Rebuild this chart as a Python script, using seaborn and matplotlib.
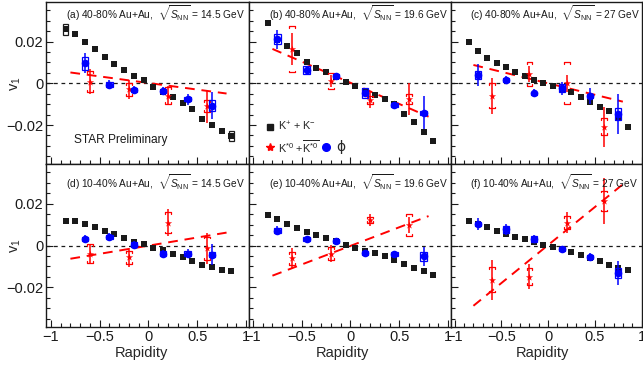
import numpy as np
import matplotlib
matplotlib.use("Agg")
import matplotlib.pyplot as plt
import pandas as pd
import seaborn as sns
from matplotlib.patches import Rectangle
from matplotlib.ticker import MultipleLocator

sns.set_theme(style="ticks")
plt.rcParams['font.family'] = ['Liberation Sans', 'DejaVu Sans']
plt.rcParams['mathtext.fontset'] = 'custom'
plt.rcParams['mathtext.rm'] = 'Liberation Sans'
plt.rcParams['mathtext.it'] = 'Liberation Sans:italic'
plt.rcParams['mathtext.bf'] = 'Liberation Sans:bold'

# rapidity bins
y_k = [-0.85, -0.75, -0.65, -0.55, -0.45, -0.35, -0.25, -0.15, -0.05,
       0.05, 0.15, 0.25, 0.35, 0.45, 0.55, 0.65, 0.75, 0.85]
y_phi_145 = [-0.65, -0.4, -0.15, 0.15, 0.4, 0.65]
y_phi = [-0.75, -0.45, -0.15, 0.15, 0.45, 0.75]
y_ks = [-0.6, -0.2, 0.2, 0.6]
fit_x = [-0.8, 0.8]

tags = ["(a) 40-80% Au+Au,", "(b) 40-80% Au+Au,", "(c) 40-80% Au+Au,",
        "(d) 10-40% Au+Au,", "(e) 10-40% Au+Au,", "(f) 10-40% Au+Au,"]
energies = ["14.5", "19.6", "27", "14.5", "19.6", "27"]

# K+ + K-
k_a = [0.0259, 0.0237, 0.0198, 0.0166, 0.0126, 0.0093, 0.0064, 0.0035, 0.0016,
       -0.0019, -0.0042, -0.0066, -0.0093, -0.0125, -0.0170, -0.0200, -0.0229, -0.0253]
k_b = [0.0288, 0.0210, 0.0181, 0.0144, 0.0104, 0.0075, 0.0053, 0.0032, 0.0008,
       -0.0013, -0.0035, -0.0056, -0.0077, -0.0100, -0.0147, -0.0184, -0.0232, -0.0278]
k_c = [0.0200, 0.0155, 0.0123, 0.0099, 0.0077, 0.0053, 0.0035, 0.0016, 0.0000,
       -0.0013, -0.0025, -0.0040, -0.0064, -0.0088, -0.0112, -0.0131, -0.0165, -0.0208]
k_d = [0.0117, 0.0117, 0.0104, 0.0088, 0.0072, 0.0056, 0.0037, 0.0019, 0.0006,
       -0.0014, -0.0022, -0.0038, -0.0056, -0.0075, -0.0091, -0.0101, -0.0115, -0.0120]
k_e = [0.0147, 0.0125, 0.0104, 0.0085, 0.0064, 0.0050, 0.0034, 0.0021, 0.0003,
       -0.0010, -0.0024, -0.0037, -0.0051, -0.0070, -0.0088, -0.0109, -0.0123, -0.0142]
k_f = [0.0117, 0.0104, 0.0088, 0.0072, 0.0056, 0.0040, 0.0029, 0.0016, 0.0005,
       -0.0006, -0.0016, -0.0032, -0.0045, -0.0059, -0.0075, -0.0093, -0.0107, -0.0118]
k_sys_a = [0.0025, 0, 0, 0, 0, 0, 0, 0, 0, 0, 0, 0, 0, 0, 0, 0, 0, 0.0024]

# phi
phi_a = [0.0096, -0.0006, -0.0032, -0.0037, -0.0077, -0.0107]
phi_b = [0.0211, 0.0064, 0.0035, -0.0048, -0.0106, -0.0141]
phi_c = [0.0040, 0.0016, -0.0048, -0.0024, -0.0061, -0.0147]
phi_d = [0.0032, 0.0040, 0.0005, -0.0038, -0.0038, -0.0043]
phi_e = [0.0072, 0.0032, 0.0021, -0.0037, -0.0042, -0.0051]
phi_f = [0.0104, 0.0077, 0.0032, -0.0016, -0.0056, -0.0131]
phi_err_a = [0.0048, 0.002, 0.0018, 0.002, 0.0025, 0.0064]
phi_err_b = [0.0046, 0.0015, 0.0015, 0.0015, 0.0018, 0.0078]
phi_err_c = [0.0055, 0.002, 0.002, 0.003, 0.004, 0.0096]
phi_err_d = [0.002, 0.0018, 0.0015, 0.0015, 0.002, 0.005]
phi_err_e = [0.002, 0.0015, 0.0015, 0.0015, 0.0015, 0.0045]
phi_err_f = [0.003, 0.0025, 0.002, 0.0015, 0.002, 0.0056]
phi_sys_a = [0.0032, 0.001, 0.001, 0.001, 0.001, 0.0028]
phi_sys_b = [0.0024, 0.0018, 0.0008, 0.0024, 0.001, 0.001]
phi_sys_c = [0.002, 0.0008, 0.0008, 0.002, 0.001, 0.0028]
phi_sys_d = [0.001, 0.001, 0.001, 0.001, 0.001, 0.001]
phi_sys_e = [0.001, 0.001, 0.001, 0.001, 0.001, 0.0022]
phi_sys_f = [0.001, 0.0015, 0.0015, 0.001, 0.001, 0.0024]

# K*0 + anti-K*0
ks_a = [0.0008, -0.0029, -0.0060, -0.0110]
ks_b = [0.0163, 0.0011, -0.0080, -0.0075]
ks_c = [-0.0060, 0.0045, 0.0000, -0.0208]
ks_d = [-0.0038, -0.0056, 0.0109, -0.0013]
ks_e = [-0.0061, -0.0038, 0.0123, 0.0098]
ks_f = [-0.0163, -0.0149, 0.0109, 0.0213]
ks_err_a = [0.006, 0.0045, 0.0045, 0.008]
ks_err_b = [0.0076, 0.003, 0.004, 0.0078]
ks_err_c = [0.0085, 0.004, 0.004, 0.0096]
ks_err_d = [0.0045, 0.0045, 0.0065, 0.0075]
ks_err_e = [0.005, 0.004, 0.003, 0.004]
ks_err_f = [0.0095, 0.006, 0.005, 0.0108]
ks_sys_a = [0.005, 0.003, 0.004, 0.0028]
ks_sys_b = [0.011, 0.004, 0.002, 0.0024]
ks_sys_c = [0.006, 0.0058, 0.010, 0.004]
ks_sys_d = [0.0045, 0.003, 0.005, 0.0055]
ks_sys_e = [0.003, 0.003, 0.0015, 0.0052]
ks_sys_f = [0.006, 0.004, 0.003, 0.005]

# linear fits to K*0 (end points)
fit_a = [0.0052, -0.0049]
fit_b = [0.0165, -0.0160]
fit_c = [0.0088, -0.0088]
fit_d = [-0.0063, 0.0062]
fit_e = [-0.0144, 0.0141]
fit_f = [-0.0288, 0.0293]

panels = [
    (k_a, k_sys_a, y_phi_145, phi_a, phi_err_a, phi_sys_a, ks_a, ks_err_a, ks_sys_a, fit_a),
    (k_b, None, y_phi, phi_b, phi_err_b, phi_sys_b, ks_b, ks_err_b, ks_sys_b, fit_b),
    (k_c, None, y_phi, phi_c, phi_err_c, phi_sys_c, ks_c, ks_err_c, ks_sys_c, fit_c),
    (k_d, None, y_phi_145, phi_d, phi_err_d, phi_sys_d, ks_d, ks_err_d, ks_sys_d, fit_d),
    (k_e, None, y_phi, phi_e, phi_err_e, phi_sys_e, ks_e, ks_err_e, ks_sys_e, fit_e),
    (k_f, None, y_phi, phi_f, phi_err_f, phi_sys_f, ks_f, ks_err_f, ks_sys_f, fit_f),
]

W, H = 643, 366
fig = plt.figure(figsize=(W / 100, H / 100), dpi=100)

# pixel frames of the columns / rows
cols = [(46, 249), (249, 451), (451, 642)]
rows = [(2, 164), (164, 326.5)]
xlims = [(-1.05, 1.03), (-1.04, 1.03), (-1.04, 1.005)]
ylim = (-0.0387, 0.039)

BLUE = "#0000ff"
RED = "#ff0000"

axes = []
for i in range(6):
    r, c = divmod(i, 3)
    x0, x1 = cols[c]
    y0, y1 = rows[r]
    ax = fig.add_axes([x0 / W, 1 - y1 / H, (x1 - x0) / W, (y1 - y0) / H])
    axes.append(ax)
    ax.set_xlim(*xlims[c])
    ax.set_ylim(*ylim)
    ax.axhline(0, color="k", lw=0.9, ls=(0, (3, 3)), zorder=1)

    k, ksys, yphi, phi, phierr, physys, ks, kserr, kssys, fit = panels[i]

    # K*0 fit line
    ax.plot(fit_x, fit, color=RED, lw=1.4, ls=(0, (5, 3.5)), zorder=2)

    # K+ + K-
    if ksys is not None:
        for xx, yy, ss in zip(y_k, k, ksys):
            if ss > 0:
                ax.add_patch(Rectangle((xx - 0.03, yy - ss), 0.06, 2 * ss, fill=False,
                                       edgecolor="k", lw=0.9, zorder=3))
    sns.scatterplot(x=y_k, y=k, marker="s", color="k", s=25, linewidth=0, ax=ax, zorder=4)

    # K*0
    for xx, yy, ss in zip(y_ks, ks, kssys):
        w, h = 0.03, 0.0008
        ax.plot([xx - w, xx - w, xx + w, xx + w], [yy + ss - h, yy + ss, yy + ss, yy + ss - h],
                color=RED, lw=0.9, zorder=5)
        ax.plot([xx - w, xx - w, xx + w, xx + w], [yy - ss + h, yy - ss, yy - ss, yy - ss + h],
                color=RED, lw=0.9, zorder=5)
    ax.errorbar(y_ks, ks, yerr=kserr, fmt="none", ecolor=RED, elinewidth=1.1, capsize=0, zorder=5)
    sns.scatterplot(x=y_ks, y=ks, marker="*", color=RED, s=30, linewidth=0, ax=ax, zorder=6)

    # phi
    for xx, yy, ss in zip(yphi, phi, physys):
        ax.add_patch(Rectangle((xx - 0.033, yy - ss), 0.066, 2 * ss, fill=False,
                               edgecolor=BLUE, lw=0.9, zorder=7))
    ax.errorbar(yphi, phi, yerr=phierr, fmt="none", ecolor=BLUE, elinewidth=1.1, capsize=0, zorder=7)
    sns.scatterplot(x=yphi, y=phi, marker="o", color=BLUE, s=30, linewidth=0, ax=ax, zorder=8)

    # axis styling
    ax.xaxis.set_major_locator(MultipleLocator(0.5))
    ax.xaxis.set_minor_locator(MultipleLocator(0.1))
    ax.yaxis.set_major_locator(MultipleLocator(0.02))
    ax.yaxis.set_minor_locator(MultipleLocator(0.005))
    ax.tick_params(which="both", direction="in", top=False, right=False, colors="k",
                   labelsize=10.5, width=0.8)
    ax.tick_params(which="major", length=5)
    ax.tick_params(which="minor", length=2.6)
    ax.tick_params(axis="y", pad=2)
    ax.tick_params(axis="x", pad=2.5)
    for sp in ax.spines.values():
        sp.set_visible(True)
        sp.set_color("k")
        sp.set_linewidth(1.0)
    ax.set_xlabel("")
    ax.set_ylabel("")
    ax.set_facecolor("white")
    if c != 0:
        ax.set_yticklabels([])
    else:
        ax.set_yticks([-0.02, 0, 0.02])
        ax.set_yticklabels(["\u22120.02", "0", "0.02"])
    if r == 0:
        ax.set_xticklabels([])
    else:
        ax.set_xticks([-1, -0.5, 0, 0.5, 1])
        ax.set_xticklabels(["\u22121", "\u22120.5", "0", "0.5", "1"])

    title = tags[i] + r"  $\sqrt{S_{\mathrm{NN}}}$ = " + energies[i] + " GeV"
    ty = (rows[r][1] - (13.5 if r == 0 else 181.7)) / (rows[r][1] - rows[r][0])
    ax.text(0.1, ty, title, transform=ax.transAxes, fontsize=7.3, ha="left", va="center",
            color="k", zorder=10)

# STAR Preliminary
axes[0].text(0.14, (164 - 140) / 162, "STAR Preliminary", transform=axes[0].transAxes,
             fontsize=8.6, ha="left", va="center", color="k")

# legend in panel (b)
axl = axes[1]
axl.plot([0.104], [0.23], marker="s", color="k", ms=5, transform=axl.transAxes, ls="none")
axl.text(0.144, 0.23, r"K$^{+}$ + K$^{-}$", transform=axl.transAxes, fontsize=7.8,
         va="center", ha="left")
axl.plot([0.104], [0.106], marker="*", color=RED, ms=6, transform=axl.transAxes, ls="none")
axl.text(0.144, 0.106, r"K$^{*0}$ +$\overline{\mathrm{K}^{*0}}$", transform=axl.transAxes,
         fontsize=7.8, va="center", ha="left")
axl.plot([0.381], [0.106], marker="o", color=BLUE, ms=5.5, transform=axl.transAxes, ls="none")
axl.text(0.43, 0.106, "\u03d5", transform=axl.transAxes, fontsize=10, va="center", ha="left",
         family=["DejaVu Sans"])

# axis titles
for r in range(2):
    yc = 1 - (83.3 if r == 0 else 246) / H
    fig.text(16 / W, yc, r"v$_{1}$", rotation=90, fontsize=10.5, ha="center", va="center")
for c in range(3):
    xc = [141, 342, 542][c]
    fig.text(xc / W, 1 - 353 / H, "Rapidity", fontsize=10.5, ha="center", va="center")

fig.savefig("out.png", dpi=100)
